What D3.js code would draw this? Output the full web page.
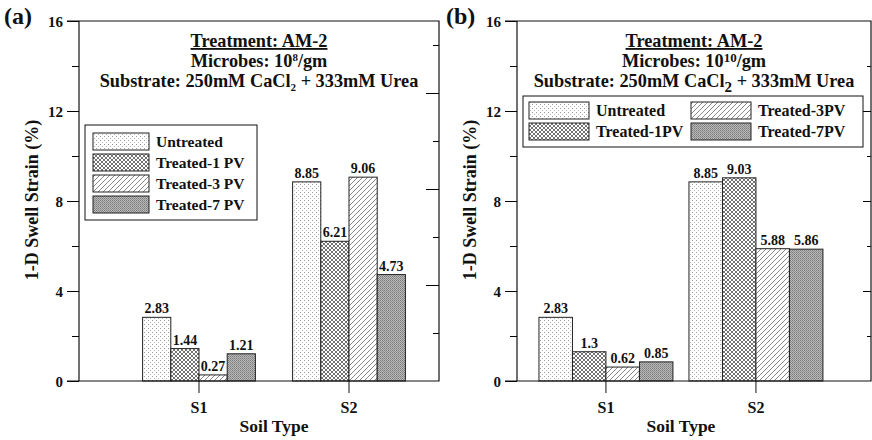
<!DOCTYPE html>
<html>
<head>
<meta charset="utf-8">
<script src="https://cdn.jsdelivr.net/npm/d3@7"></script>
<style>
  body { margin: 0; background: #fff; }
</style>
</head>
<body>
<svg id="chart"></svg>
<script>
// values
const categories = ["S1", "S2"];
const seriesA = ["Untreated", "Treated-1 PV", "Treated-3 PV", "Treated-7 PV"];
const seriesB = ["Untreated", "Treated-1PV", "Treated-3PV", "Treated-7PV"];
const valuesA = [[2.83, 1.44, 0.27, 1.21], [8.85, 6.21, 9.06, 4.73]];
const valuesB = [[2.83, 1.3, 0.62, 0.85], [8.85, 9.03, 5.88, 5.86]];
const labelsA = [["2.83", "1.44", "0.27", "1.21"], ["8.85", "6.21", "9.06", "4.73"]];
const labelsB = [["2.83", "1.3", "0.62", "0.85"], ["8.85", "9.03", "5.88", "5.86"]];
const yMajor = [0, 4, 8, 12, 16];
const yMinor = [2, 6, 10, 14];
const fills = ["url(#p-dots)", "url(#p-cross)", "url(#p-diag)", "url(#p-dense)"];

const FONT = "Liberation Serif";
const width = 872, height = 440;
const svg = d3.select("#chart").attr("width", width).attr("height", height)
  .attr("font-family", FONT).attr("font-weight", "bold");
svg.append("rect").attr("width", width).attr("height", height).attr("fill", "#fff");

// hatch patterns
const defs = svg.append("defs");
let p = defs.append("pattern").attr("id", "p-dots").attr("patternUnits", "userSpaceOnUse")
  .attr("width", 4).attr("height", 4);
p.append("rect").attr("width", 4).attr("height", 4).attr("fill", "#fff");
p.append("rect").attr("x", 0).attr("y", 0).attr("width", 1).attr("height", 1).attr("fill", "#999");
p.append("rect").attr("x", 2).attr("y", 2).attr("width", 1).attr("height", 1).attr("fill", "#bbb");

p = defs.append("pattern").attr("id", "p-cross").attr("patternUnits", "userSpaceOnUse")
  .attr("width", 4).attr("height", 4);
p.append("rect").attr("width", 4).attr("height", 4).attr("fill", "#fff");
p.append("path").attr("d", "M0,0L4,4M0,4L4,0").attr("stroke", "#5a5a5a").attr("stroke-width", 0.85);

p = defs.append("pattern").attr("id", "p-diag").attr("patternUnits", "userSpaceOnUse")
  .attr("width", 5).attr("height", 5);
p.append("rect").attr("width", 5).attr("height", 5).attr("fill", "#fff");
p.append("path").attr("d", "M0,5L5,0M-1,1L1,-1M4,6L6,4").attr("stroke", "#888").attr("stroke-width", 1);

p = defs.append("pattern").attr("id", "p-dense").attr("patternUnits", "userSpaceOnUse")
  .attr("width", 2).attr("height", 2);
p.append("rect").attr("width", 2).attr("height", 2).attr("fill", "#b8b8b8");
p.append("rect").attr("width", 1).attr("height", 1).attr("fill", "#7c7c7c");
p.append("rect").attr("x", 1).attr("y", 1).attr("width", 1).attr("height", 1).attr("fill", "#909090");

function label(sel) {
  return sel.attr("font-family", FONT).attr("font-weight", "bold").attr("fill", "#111");
}

function drawPanel(cfg) {
  const x = d3.scaleLinear().domain(cfg.xDomain).range([cfg.left, cfg.right]);
  const y = d3.scaleLinear().domain([0, 16]).range([381, 21]);
  const yRight = d3.scaleLinear().domain([0, cfg.rightMax]).range([381, 21]);
  const g = svg.append("g");

  // bars
  categories.forEach((c, ci) => {
    cfg.values[ci].forEach((v, si) => {
      const x0 = x(ci + 1 - 2 * cfg.bw + si * cfg.bw), x1 = x(ci + 1 - 2 * cfg.bw + (si + 1) * cfg.bw);
      g.append("rect")
        .attr("x", x0).attr("y", y(v))
        .attr("width", x1 - x0).attr("height", y(0) - y(v))
        .attr("fill", fills[si]).attr("stroke", "#222").attr("stroke-width", 1);
      g.append("text")
        .attr("x", (x0 + x1) / 2).attr("y", y(v) - 4)
        .attr("text-anchor", "middle").attr("font-size", 14)
        .call(label)
        .text(cfg.labels[ci][si]);
    });
  });

  // left axis
  g.append("g").attr("transform", `translate(${cfg.left},0)`)
    .call(d3.axisLeft(y).tickValues(yMajor).tickSize(12).tickPadding(4).tickFormat(d3.format("d")))
    .call(a => a.attr("font-family", FONT))
    .call(a => a.select(".domain").remove())
    .call(a => a.selectAll("text").attr("font-size", 15).attr("dy", "0.35em").call(label));
  g.append("g").attr("transform", `translate(${cfg.left},0)`)
    .call(d3.axisLeft(y).tickValues(yMinor).tickSize(7).tickFormat(""))
    .call(a => a.select(".domain").remove());

  // right axis, ticks pointing in
  g.append("g").attr("transform", `translate(${cfg.right},0)`)
    .call(d3.axisLeft(yRight).tickValues(cfg.rightMajor).tickSize(0).tickFormat(""))
    .call(a => a.select(".domain").remove())
    .call(a => a.selectAll(".tick line").attr("x2", -cfg.rightLong));
  g.append("g").attr("transform", `translate(${cfg.right},0)`)
    .call(d3.axisLeft(yRight).tickValues(cfg.rightMinor).tickSize(0).tickFormat(""))
    .call(a => a.select(".domain").remove())
    .call(a => a.selectAll(".tick line").attr("x2", -cfg.rightShort));

  // frame
  g.append("path")
    .attr("d", `M${cfg.left - 12},${y(16)}H${cfg.right}V${y(0)}H${cfg.left - 12}M${cfg.left},${y(16)}V${y(0)}`)
    .attr("fill", "none").attr("stroke", "#111").attr("stroke-width", 1.2);

  // x axis categories
  categories.forEach((c, ci) => {
    g.append("line").attr("x1", x(ci + 1)).attr("x2", x(ci + 1))
      .attr("y1", y(0)).attr("y2", y(0) + 12).attr("stroke", "#111");
    g.append("text").attr("x", x(ci + 1)).attr("y", 413)
      .attr("text-anchor", "middle").attr("font-size", 16).call(label).text(c);
  });
  const mid = (cfg.left + cfg.right) / 2;
  g.append("text").attr("x", x(1.5)).attr("y", 432)
    .attr("text-anchor", "middle").attr("font-size", 17.5).call(label).text("Soil Type");
  g.append("text")
    .attr("transform", `translate(${cfg.yLabelX},200) rotate(-90)`)
    .attr("text-anchor", "middle").attr("font-size", 18).call(label).text("1-D Swell Strain (%)");
  g.append("text").attr("x", cfg.tagX).attr("y", 24).attr("font-size", 24).call(label).text(cfg.tag);

  // title block
  g.append("text").attr("x", mid).attr("y", 47).attr("text-anchor", "middle")
    .attr("font-size", 18.3).attr("text-decoration", "underline").call(label).text("Treatment: AM-2");
  const t2 = g.append("text").attr("x", mid).attr("y", 67).attr("text-anchor", "middle")
    .attr("font-size", 18.3).call(label);
  t2.append("tspan").text("Microbes: 10");
  t2.append("tspan").attr("dy", cfg.supDy).attr("font-size", cfg.supSize).text(cfg.sup);
  t2.append("tspan").attr("dy", -cfg.supDy).text("/gm");
  const t3 = g.append("text").attr("x", mid).attr("y", 87).attr("text-anchor", "middle")
    .attr("font-size", 18.3).call(label);
  t3.append("tspan").text("Substrate: 250mM CaCl");
  t3.append("tspan").attr("dy", cfg.subDy).attr("font-size", cfg.subSize).text("2");
  t3.append("tspan").attr("dy", -cfg.subDy).text(" + 333mM Urea");

  // legend
  const lg = g.append("g");
  lg.append("rect").attr("x", cfg.legend.x).attr("y", cfg.legend.y)
    .attr("width", cfg.legend.w).attr("height", cfg.legend.h)
    .attr("fill", "#fff").attr("stroke", "#111").attr("stroke-width", 1);
  cfg.series.forEach((s, si) => {
    const pos = cfg.legend.item(si);
    lg.append("rect").attr("x", pos[0]).attr("y", pos[1])
      .attr("width", cfg.legend.sw).attr("height", 17)
      .attr("fill", fills[si]).attr("stroke", "#222");
    lg.append("text").attr("x", pos[0] + cfg.legend.sw + 7).attr("y", pos[1] + 14)
      .attr("font-size", cfg.legend.fs).call(label).text(s);
  });
}

drawPanel({
  left: 79, right: 439, xDomain: [0.2, 2.6], bw: 0.188,
  values: valuesA, labels: labelsA, series: seriesA,
  rightMax: 15, rightMajor: [4, 8, 12], rightMinor: [2, 6, 10, 14], rightLong: 13, rightShort: 6,
  yLabelX: 38, tagX: 4, tag: "(a)",
  sup: "8", supDy: -6, supSize: 11, subDy: 4, subSize: 11,
  legend: { x: 85, y: 125, w: 172, h: 95, sw: 56, fs: 15.5,
    item: i => [93, 133 + i * 21] }
});

drawPanel({
  left: 517, right: 871, xDomain: [0.407, 2.767], bw: 0.2233,
  values: valuesB, labels: labelsB, series: seriesB,
  rightMax: 16, rightMajor: [4, 8, 12], rightMinor: [2, 6, 10, 14], rightLong: 8, rightShort: 4,
  yLabelX: 476, tagX: 446, tag: "(b)",
  sup: "10", supDy: -5, supSize: 13, subDy: 5, subSize: 15,
  legend: { x: 523, y: 96, w: 340, h: 51, sw: 60, fs: 16,
    item: i => [i < 2 ? 529 : 691, 102 + (i % 2) * 21] }
});
</script>
</body>
</html>
